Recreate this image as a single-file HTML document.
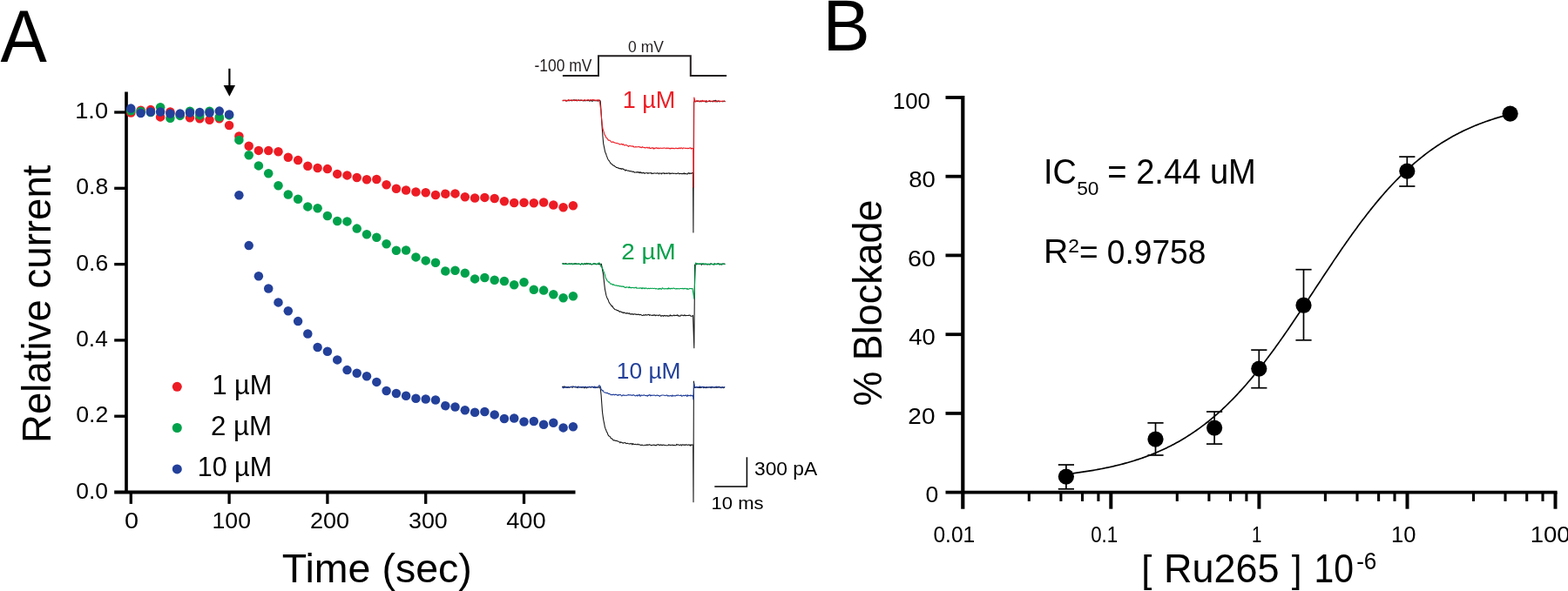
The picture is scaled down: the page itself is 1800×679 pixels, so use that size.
<!DOCTYPE html>
<html><head><meta charset="utf-8"><title>Ru265 figure</title>
<style>html,body{margin:0;padding:0;background:#fff;}body{width:1800px;height:679px;overflow:hidden;}svg{display:block;}</style>
</head><body>
<svg width="1800" height="679" viewBox="0 0 1800 679">
<rect width="1800" height="679" fill="#fff"/>
<g stroke="#000" fill="none">
<line x1="145" y1="105.6" x2="145" y2="565.5" stroke-width="3.7"/>
<line x1="131.2" y1="565.5" x2="660.5" y2="565.5" stroke-width="3.8"/>
<line x1="131.2" y1="478.2" x2="145" y2="478.2" stroke-width="3.3"/>
<line x1="131.2" y1="390.9" x2="145" y2="390.9" stroke-width="3.3"/>
<line x1="131.2" y1="303.6" x2="145" y2="303.6" stroke-width="3.3"/>
<line x1="131.2" y1="216.3" x2="145" y2="216.3" stroke-width="3.3"/>
<line x1="131.2" y1="129.0" x2="145" y2="129.0" stroke-width="3.3"/>
<line x1="150.3" y1="565.5" x2="150.3" y2="578.9" stroke-width="3.3"/>
<line x1="263.1" y1="565.5" x2="263.1" y2="578.9" stroke-width="3.3"/>
<line x1="375.9" y1="565.5" x2="375.9" y2="578.9" stroke-width="3.3"/>
<line x1="488.7" y1="565.5" x2="488.7" y2="578.9" stroke-width="3.3"/>
<line x1="601.5" y1="565.5" x2="601.5" y2="578.9" stroke-width="3.3"/>
</g>
<g fill="#ED1C24">
<circle cx="150.3" cy="129.5" r="5.25"/>
<circle cx="161.6" cy="126.8" r="5.25"/>
<circle cx="172.9" cy="126.1" r="5.25"/>
<circle cx="184.1" cy="134.4" r="5.25"/>
<circle cx="195.4" cy="128.5" r="5.25"/>
<circle cx="206.7" cy="131.5" r="5.25"/>
<circle cx="218.0" cy="135.3" r="5.25"/>
<circle cx="229.3" cy="136.3" r="5.25"/>
<circle cx="240.5" cy="137.8" r="5.25"/>
<circle cx="251.8" cy="136.3" r="5.25"/>
<circle cx="263.1" cy="144.0" r="5.25"/>
<circle cx="274.4" cy="156.5" r="5.25"/>
<circle cx="285.7" cy="167.8" r="5.25"/>
<circle cx="296.9" cy="172.9" r="5.25"/>
<circle cx="308.2" cy="173.1" r="5.25"/>
<circle cx="319.5" cy="174.2" r="5.25"/>
<circle cx="330.8" cy="180.7" r="5.25"/>
<circle cx="342.1" cy="184.1" r="5.25"/>
<circle cx="353.3" cy="190.7" r="5.25"/>
<circle cx="364.6" cy="193.0" r="5.25"/>
<circle cx="375.9" cy="194.1" r="5.25"/>
<circle cx="387.2" cy="199.9" r="5.25"/>
<circle cx="398.5" cy="201.4" r="5.25"/>
<circle cx="409.7" cy="204.0" r="5.25"/>
<circle cx="421.0" cy="206.2" r="5.25"/>
<circle cx="432.3" cy="206.0" r="5.25"/>
<circle cx="443.6" cy="212.2" r="5.25"/>
<circle cx="454.9" cy="216.7" r="5.25"/>
<circle cx="466.1" cy="218.5" r="5.25"/>
<circle cx="477.4" cy="220.5" r="5.25"/>
<circle cx="488.7" cy="221.2" r="5.25"/>
<circle cx="500.0" cy="224.0" r="5.25"/>
<circle cx="511.3" cy="222.7" r="5.25"/>
<circle cx="522.5" cy="222.4" r="5.25"/>
<circle cx="533.8" cy="226.2" r="5.25"/>
<circle cx="545.1" cy="227.5" r="5.25"/>
<circle cx="556.4" cy="226.9" r="5.25"/>
<circle cx="567.7" cy="228.0" r="5.25"/>
<circle cx="578.9" cy="231.3" r="5.25"/>
<circle cx="590.2" cy="233.0" r="5.25"/>
<circle cx="601.5" cy="232.8" r="5.25"/>
<circle cx="612.8" cy="233.3" r="5.25"/>
<circle cx="624.1" cy="232.5" r="5.25"/>
<circle cx="635.3" cy="235.5" r="5.25"/>
<circle cx="646.6" cy="238.2" r="5.25"/>
<circle cx="657.9" cy="236.3" r="5.25"/>
</g>
<g fill="#00A14B">
<circle cx="150.3" cy="127.3" r="5.25"/>
<circle cx="161.6" cy="128.0" r="5.25"/>
<circle cx="172.9" cy="129.0" r="5.25"/>
<circle cx="184.1" cy="123.2" r="5.25"/>
<circle cx="195.4" cy="135.8" r="5.25"/>
<circle cx="206.7" cy="132.9" r="5.25"/>
<circle cx="218.0" cy="127.8" r="5.25"/>
<circle cx="229.3" cy="132.4" r="5.25"/>
<circle cx="240.5" cy="127.8" r="5.25"/>
<circle cx="251.8" cy="134.4" r="5.25"/>
<circle cx="263.1" cy="132.4" r="5.25"/>
<circle cx="274.4" cy="160.9" r="5.25"/>
<circle cx="285.7" cy="178.2" r="5.25"/>
<circle cx="296.9" cy="190.4" r="5.25"/>
<circle cx="308.2" cy="199.2" r="5.25"/>
<circle cx="319.5" cy="213.3" r="5.25"/>
<circle cx="330.8" cy="223.5" r="5.25"/>
<circle cx="342.1" cy="228.8" r="5.25"/>
<circle cx="353.3" cy="237.4" r="5.25"/>
<circle cx="364.6" cy="239.2" r="5.25"/>
<circle cx="375.9" cy="248.0" r="5.25"/>
<circle cx="387.2" cy="254.0" r="5.25"/>
<circle cx="398.5" cy="254.4" r="5.25"/>
<circle cx="409.7" cy="262.6" r="5.25"/>
<circle cx="421.0" cy="269.3" r="5.25"/>
<circle cx="432.3" cy="272.7" r="5.25"/>
<circle cx="443.6" cy="280.3" r="5.25"/>
<circle cx="454.9" cy="287.8" r="5.25"/>
<circle cx="466.1" cy="287.5" r="5.25"/>
<circle cx="477.4" cy="295.4" r="5.25"/>
<circle cx="488.7" cy="299.4" r="5.25"/>
<circle cx="500.0" cy="301.8" r="5.25"/>
<circle cx="511.3" cy="311.5" r="5.25"/>
<circle cx="522.5" cy="310.8" r="5.25"/>
<circle cx="533.8" cy="313.7" r="5.25"/>
<circle cx="545.1" cy="320.4" r="5.25"/>
<circle cx="556.4" cy="319.0" r="5.25"/>
<circle cx="567.7" cy="321.7" r="5.25"/>
<circle cx="578.9" cy="323.0" r="5.25"/>
<circle cx="590.2" cy="327.3" r="5.25"/>
<circle cx="601.5" cy="324.3" r="5.25"/>
<circle cx="612.8" cy="332.7" r="5.25"/>
<circle cx="624.1" cy="333.6" r="5.25"/>
<circle cx="635.3" cy="338.3" r="5.25"/>
<circle cx="646.6" cy="342.2" r="5.25"/>
<circle cx="657.9" cy="340.2" r="5.25"/>
</g>
<g fill="#23409A">
<circle cx="150.3" cy="124.6" r="5.25"/>
<circle cx="161.6" cy="130.0" r="5.25"/>
<circle cx="172.9" cy="128.5" r="5.25"/>
<circle cx="184.1" cy="128.5" r="5.25"/>
<circle cx="195.4" cy="130.5" r="5.25"/>
<circle cx="206.7" cy="130.5" r="5.25"/>
<circle cx="218.0" cy="129.5" r="5.25"/>
<circle cx="229.3" cy="129.0" r="5.25"/>
<circle cx="240.5" cy="129.5" r="5.25"/>
<circle cx="251.8" cy="127.6" r="5.25"/>
<circle cx="263.1" cy="131.4" r="5.25"/>
<circle cx="274.4" cy="224.3" r="5.25"/>
<circle cx="285.7" cy="282.1" r="5.25"/>
<circle cx="296.9" cy="317.2" r="5.25"/>
<circle cx="308.2" cy="331.5" r="5.25"/>
<circle cx="319.5" cy="347.4" r="5.25"/>
<circle cx="330.8" cy="357.3" r="5.25"/>
<circle cx="342.1" cy="369.1" r="5.25"/>
<circle cx="353.3" cy="383.5" r="5.25"/>
<circle cx="364.6" cy="399.0" r="5.25"/>
<circle cx="375.9" cy="403.7" r="5.25"/>
<circle cx="387.2" cy="413.4" r="5.25"/>
<circle cx="398.5" cy="425.1" r="5.25"/>
<circle cx="409.7" cy="428.8" r="5.25"/>
<circle cx="421.0" cy="432.3" r="5.25"/>
<circle cx="432.3" cy="438.9" r="5.25"/>
<circle cx="443.6" cy="449.0" r="5.25"/>
<circle cx="454.9" cy="452.0" r="5.25"/>
<circle cx="466.1" cy="454.7" r="5.25"/>
<circle cx="477.4" cy="457.7" r="5.25"/>
<circle cx="488.7" cy="458.5" r="5.25"/>
<circle cx="500.0" cy="459.5" r="5.25"/>
<circle cx="511.3" cy="466.2" r="5.25"/>
<circle cx="522.5" cy="467.5" r="5.25"/>
<circle cx="533.8" cy="471.2" r="5.25"/>
<circle cx="545.1" cy="473.8" r="5.25"/>
<circle cx="556.4" cy="473.0" r="5.25"/>
<circle cx="567.7" cy="476.4" r="5.25"/>
<circle cx="578.9" cy="481.0" r="5.25"/>
<circle cx="590.2" cy="480.5" r="5.25"/>
<circle cx="601.5" cy="484.5" r="5.25"/>
<circle cx="612.8" cy="484.0" r="5.25"/>
<circle cx="624.1" cy="487.7" r="5.25"/>
<circle cx="635.3" cy="485.7" r="5.25"/>
<circle cx="646.6" cy="491.4" r="5.25"/>
<circle cx="657.9" cy="490.2" r="5.25"/>
</g>
<g font-family="'Liberation Sans', Arial, Helvetica, sans-serif">
<text x="87.27" y="572.50" font-size="25.92" textLength="36.77" lengthAdjust="spacingAndGlyphs" fill="#000">0.0</text>
<text x="87.26" y="485.20" font-size="25.92" textLength="37.08" lengthAdjust="spacingAndGlyphs" fill="#000">0.2</text>
<text x="87.27" y="397.90" font-size="25.92" textLength="36.49" lengthAdjust="spacingAndGlyphs" fill="#000">0.4</text>
<text x="87.26" y="310.60" font-size="25.92" textLength="36.90" lengthAdjust="spacingAndGlyphs" fill="#000">0.6</text>
<text x="87.26" y="223.30" font-size="25.92" textLength="36.89" lengthAdjust="spacingAndGlyphs" fill="#000">0.8</text>
<text x="86.23" y="136.00" font-size="25.92" textLength="37.84" lengthAdjust="spacingAndGlyphs" fill="#000">1.0</text>
<text x="143.07" y="607.00" font-size="25.92" textLength="16.06" lengthAdjust="spacingAndGlyphs" fill="#000">0</text>
<text x="243.57" y="607.00" font-size="25.92" textLength="44.36" lengthAdjust="spacingAndGlyphs" fill="#000">100</text>
<text x="355.94" y="607.00" font-size="25.92" textLength="45.12" lengthAdjust="spacingAndGlyphs" fill="#000">200</text>
<text x="468.98" y="607.00" font-size="25.92" textLength="44.77" lengthAdjust="spacingAndGlyphs" fill="#000">300</text>
<text x="581.17" y="607.00" font-size="25.92" textLength="45.49" lengthAdjust="spacingAndGlyphs" fill="#000">400</text>
<text x="323.86" y="669.30" font-size="47.09" textLength="217.90" lengthAdjust="spacingAndGlyphs" fill="#000">Time (sec)</text>
<text transform="rotate(-90)" x="-508.94" y="57.90" font-size="47.09" textLength="319.38" lengthAdjust="spacingAndGlyphs" fill="#000">Relative current</text>
<text x="0.44" y="70.70" font-size="84.74" textLength="53.31" lengthAdjust="spacingAndGlyphs" fill="#000">A</text>
<text x="243.47" y="453.00" font-size="32.27" textLength="68.75" lengthAdjust="spacingAndGlyphs" fill="#000">1 µM</text>
<text x="242.03" y="499.80" font-size="31.11" textLength="70.14" lengthAdjust="spacingAndGlyphs" fill="#000">2 µM</text>
<text x="226.68" y="547.10" font-size="31.69" textLength="85.43" lengthAdjust="spacingAndGlyphs" fill="#000">10 µM</text>
</g>
<circle cx="203.3" cy="444.3" r="5.5" fill="#ED1C24"/>
<circle cx="203.3" cy="491.5" r="5.5" fill="#00A14B"/>
<circle cx="203.3" cy="538.9" r="5.5" fill="#23409A"/>
<line x1="263.4" y1="78.8" x2="263.4" y2="100" stroke="#000" stroke-width="2.2"/>
<path d="M256.6 98 L270 98 L263.4 110.8 Z" fill="#000"/>
<polyline points="645.80,115.60 646.50,115.71 647.20,115.50 647.90,115.26 648.60,115.43 649.30,115.22 650.00,115.62 650.70,116.11 651.40,115.41 652.10,115.36 652.80,115.79 653.50,115.74 654.20,115.64 654.90,115.25 655.60,115.59 656.30,115.86 657.00,115.09 657.70,115.43 658.40,114.88 659.10,115.11 659.80,114.90 660.50,115.51 661.20,115.12 661.90,115.70 662.60,115.66 663.30,115.53 664.00,114.64 664.70,115.40 665.40,115.58 666.10,115.64 666.80,115.02 667.50,115.42 668.20,115.23 668.90,115.29 669.60,116.00 670.30,115.29 671.00,115.59 671.70,115.94 672.40,115.38 673.10,115.56 673.80,115.64 674.50,115.62 675.20,115.13 675.90,115.63 676.60,116.12 677.30,115.01 678.00,115.93 678.70,115.65 679.40,115.36 680.10,116.36 680.80,115.89 681.50,115.14 682.20,115.63 682.90,115.82 683.60,115.53 684.30,115.86 685.00,115.57 685.70,115.85 686.40,116.15 687.10,115.34 687.80,115.68 688.50,115.42 689.20,116.02 689.90,125.62 690.60,137.69 691.30,148.05 692.00,157.31 692.70,165.04 693.40,168.47 694.10,171.90 694.80,175.08 695.50,176.23 696.20,178.64 696.90,180.42 697.60,182.43 698.30,183.57 699.00,184.41 699.70,185.47 700.40,186.47 701.10,187.98 701.80,187.97 702.50,188.69 703.20,189.55 703.90,189.92 704.60,190.38 705.30,190.46 706.00,191.27 706.70,191.46 707.40,192.41 708.10,192.52 708.80,192.56 709.50,193.10 710.20,192.97 710.90,193.75 711.60,193.58 712.30,194.03 713.00,193.54 713.70,194.37 714.40,193.80 715.10,193.86 715.80,194.71 716.50,194.66 717.20,195.23 717.90,196.19 718.60,195.18 719.30,195.42 720.00,195.90 720.70,196.16 721.40,196.07 722.10,196.21 722.80,196.72 723.50,196.83 724.20,196.41 724.90,196.95 725.60,197.16 726.30,196.92 727.00,197.58 727.70,197.30 728.40,198.14 729.10,197.97 729.80,198.04 730.50,197.88 731.20,198.13 731.90,197.47 732.60,197.85 733.30,198.47 734.00,197.57 734.70,198.74 735.40,197.80 736.10,198.80 736.80,198.24 737.50,198.89 738.20,198.69 738.90,198.10 739.60,199.19 740.30,199.30 741.00,198.77 741.70,198.72 742.40,198.80 743.10,198.53 743.80,199.35 744.50,198.75 745.20,198.97 745.90,198.71 746.60,198.80 747.30,198.58 748.00,199.57 748.70,199.06 749.40,199.50 750.10,199.16 750.80,198.91 751.50,199.07 752.20,199.00 752.90,199.23 753.60,199.10 754.30,199.14 755.00,198.74 755.70,198.97 756.40,199.91 757.10,199.03 757.80,198.89 758.50,199.42 759.20,199.83 759.90,198.75 760.60,199.22 761.30,199.06 762.00,198.63 762.70,199.58 763.40,199.29 764.10,199.33 764.80,199.01 765.50,199.47 766.20,199.10 766.90,199.25 767.60,198.88 768.30,198.84 769.00,199.81 769.70,199.11 770.40,199.41 771.10,199.29 771.80,199.13 772.50,199.11 773.20,199.54 773.90,199.19 774.60,199.24 775.30,199.31 776.00,199.75 776.70,199.56 777.40,199.45 778.10,199.09 778.80,198.77 779.50,199.66 780.20,199.67 780.90,199.25 781.60,199.51 782.30,199.60 783.00,199.62 783.70,199.65 784.40,199.13 785.10,199.88 785.80,198.83 786.50,199.63 787.20,199.49 787.90,199.63 788.60,200.01 789.30,199.86 790.00,198.86 790.70,198.66 791.40,199.61 792.10,198.91 792.80,199.30 793.50,199.62 794.20,198.68 794.90,198.50 795.50,199.40 795.90,267.00 796.50,117.00 797.20,116.62 797.90,116.50 798.60,116.60 799.30,116.26 800.00,116.00 800.70,116.51 801.40,116.20 802.10,115.94 802.80,116.75 803.50,116.53 804.20,116.70 804.90,116.16 805.60,116.28 806.30,116.15 807.00,116.19 807.70,116.60 808.40,116.22 809.10,116.65 809.80,116.64 810.50,117.28 811.20,115.98 811.90,116.84 812.60,116.47 813.30,116.50 814.00,115.95 814.70,116.33 815.40,116.78 816.10,116.47 816.80,116.53 817.50,116.39 818.20,116.94 818.90,116.49 819.60,115.66 820.30,116.24 821.00,115.75 821.70,115.26 822.40,116.30 823.10,117.01 823.80,116.52 824.50,116.05 825.20,116.14 825.90,116.93 826.60,116.56 827.30,116.52 828.00,116.48 828.70,116.51 829.40,116.81 830.10,116.71 830.80,116.58 831.50,116.10 832.20,116.69 832.30,116.24" fill="none" stroke="#1a1a1a" stroke-width="1.1" stroke-linejoin="round"/>
<polyline points="645.80,116.02 646.50,115.09 647.20,115.49 647.90,115.51 648.60,114.98 649.30,116.12 650.00,115.99 650.70,115.24 651.40,115.68 652.10,115.51 652.80,114.35 653.50,115.42 654.20,115.28 654.90,115.32 655.60,114.86 656.30,115.15 657.00,115.17 657.70,115.67 658.40,115.33 659.10,115.19 659.80,115.76 660.50,114.95 661.20,115.01 661.90,114.45 662.60,115.73 663.30,115.49 664.00,115.46 664.70,115.35 665.40,115.13 666.10,115.17 666.80,114.98 667.50,114.99 668.20,115.08 668.90,115.63 669.60,115.26 670.30,115.02 671.00,114.82 671.70,114.79 672.40,115.64 673.10,115.22 673.80,115.05 674.50,114.89 675.20,114.60 675.90,114.99 676.60,115.34 677.30,114.86 678.00,114.92 678.70,114.92 679.40,115.05 680.10,114.40 680.80,114.91 681.50,114.68 682.20,115.34 682.90,114.71 683.60,115.22 684.30,115.58 685.00,114.88 685.70,114.77 686.40,115.07 687.10,115.00 687.80,114.62 688.50,117.27 689.20,122.37 689.90,127.93 690.60,136.03 691.30,142.98 692.00,147.98 692.70,150.16 693.40,152.35 694.10,154.98 694.80,155.51 695.50,157.36 696.20,158.50 696.90,158.92 697.60,159.85 698.30,161.11 699.00,160.93 699.70,161.34 700.40,161.51 701.10,162.42 701.80,163.27 702.50,163.35 703.20,162.87 703.90,163.12 704.60,163.45 705.30,163.93 706.00,163.91 706.70,164.24 707.40,164.44 708.10,164.38 708.80,164.66 709.50,164.94 710.20,165.01 710.90,165.42 711.60,166.11 712.30,165.81 713.00,165.78 713.70,165.29 714.40,166.25 715.10,165.53 715.80,165.90 716.50,166.91 717.20,167.01 717.90,166.84 718.60,166.39 719.30,167.03 720.00,167.05 720.70,167.68 721.40,168.41 722.10,167.75 722.80,167.48 723.50,167.43 724.20,167.96 724.90,168.02 725.60,167.75 726.30,168.32 727.00,167.93 727.70,168.88 728.40,168.95 729.10,169.04 729.80,168.52 730.50,168.97 731.20,168.79 731.90,168.76 732.60,168.84 733.30,168.53 734.00,168.53 734.70,169.43 735.40,169.11 736.10,169.32 736.80,169.67 737.50,168.68 738.20,169.10 738.90,169.51 739.60,169.64 740.30,169.40 741.00,169.98 741.70,169.72 742.40,169.23 743.10,169.38 743.80,170.09 744.50,170.00 745.20,169.14 745.90,170.42 746.60,170.18 747.30,170.50 748.00,169.88 748.70,169.95 749.40,169.67 750.10,171.09 750.80,170.09 751.50,170.79 752.20,169.97 752.90,170.31 753.60,169.64 754.30,170.15 755.00,170.69 755.70,169.86 756.40,170.76 757.10,170.49 757.80,169.98 758.50,170.20 759.20,170.22 759.90,170.38 760.60,170.20 761.30,170.09 762.00,170.30 762.70,170.02 763.40,169.93 764.10,170.40 764.80,170.76 765.50,169.85 766.20,170.43 766.90,170.19 767.60,170.07 768.30,170.77 769.00,170.25 769.70,171.02 770.40,170.15 771.10,170.60 771.80,170.37 772.50,170.17 773.20,170.68 773.90,170.40 774.60,170.69 775.30,170.45 776.00,170.06 776.70,170.43 777.40,170.49 778.10,170.84 778.80,170.13 779.50,170.46 780.20,169.83 780.90,170.73 781.60,170.07 782.30,169.80 783.00,170.46 783.70,170.91 784.40,169.91 785.10,170.08 785.80,170.21 786.50,170.06 787.20,170.64 787.90,170.19 788.60,170.22 789.30,170.72 790.00,170.21 790.70,170.66 791.40,170.13 792.10,170.04 792.80,169.80 793.50,171.21 794.20,170.38 794.90,170.59 795.60,170.49 795.80,170.56 796.30,215.20 796.80,112.00 798.00,116.32 798.70,117.03 799.40,115.91 800.10,115.71 800.80,115.92 801.50,115.79 802.20,116.58 802.90,116.61 803.60,115.93 804.30,115.77 805.00,116.17 805.70,116.83 806.40,115.23 807.10,116.50 807.80,115.89 808.50,116.70 809.20,115.89 809.90,116.19 810.60,115.73 811.30,115.93 812.00,116.83 812.70,116.61 813.40,116.15 814.10,115.97 814.80,115.58 815.50,116.15 816.20,116.29 816.90,116.27 817.60,116.26 818.30,115.87 819.00,116.27 819.70,116.29 820.40,116.79 821.10,117.01 821.80,116.25 822.50,116.01 823.20,116.28 823.90,116.07 824.60,116.02 825.30,116.28 826.00,115.90 826.70,116.53 827.40,116.26 828.10,116.40 828.80,116.23 829.50,116.02 830.20,115.94 830.90,116.21 831.60,116.09 832.30,116.39" fill="none" stroke="#ED1C24" stroke-width="1.1" stroke-linejoin="round"/>
<polyline points="645.50,303.30 646.20,302.78 646.90,303.33 647.60,302.79 648.30,303.07 649.00,303.19 649.70,302.51 650.40,303.33 651.10,303.36 651.80,303.24 652.50,303.14 653.20,303.16 653.90,302.93 654.60,303.20 655.30,303.09 656.00,303.33 656.70,302.84 657.40,303.39 658.10,303.35 658.80,303.25 659.50,303.13 660.20,303.51 660.90,302.67 661.60,303.47 662.30,303.39 663.00,303.41 663.70,303.45 664.40,303.05 665.10,303.20 665.80,303.54 666.50,303.46 667.20,303.38 667.90,302.72 668.60,303.50 669.30,303.74 670.00,303.68 670.70,303.39 671.40,302.71 672.10,303.66 672.80,303.24 673.50,302.34 674.20,303.44 674.90,302.73 675.60,302.81 676.30,303.06 677.00,303.78 677.70,303.16 678.40,303.40 679.10,303.96 679.80,303.91 680.50,303.26 681.20,303.21 681.90,302.82 682.60,303.04 683.30,303.46 684.00,303.45 684.70,303.34 685.40,303.68 686.10,303.01 686.80,303.28 687.50,303.58 688.20,303.52 688.90,303.71 689.60,303.45 690.30,303.18 691.00,306.51 691.70,310.81 692.40,314.65 693.10,320.31 693.80,326.93 694.50,332.56 695.20,335.96 695.90,339.40 696.60,341.44 697.30,343.12 698.00,344.12 698.70,346.18 699.40,347.85 700.10,348.79 700.80,349.49 701.50,350.71 702.20,351.91 702.90,351.39 703.60,353.11 704.30,353.97 705.00,354.56 705.70,355.45 706.40,355.69 707.10,355.80 707.80,356.18 708.50,356.71 709.20,356.53 709.90,357.01 710.60,357.65 711.30,358.33 712.00,357.79 712.70,358.09 713.40,358.43 714.10,359.11 714.80,358.81 715.50,359.60 716.20,358.88 716.90,359.37 717.60,359.54 718.30,360.07 719.00,360.31 719.70,359.47 720.40,359.81 721.10,360.38 721.80,360.09 722.50,359.85 723.20,360.91 723.90,360.79 724.60,360.87 725.30,360.58 726.00,361.22 726.70,360.81 727.40,361.39 728.10,360.69 728.80,360.78 729.50,361.24 730.20,360.96 730.90,361.54 731.60,361.43 732.30,361.03 733.00,361.46 733.70,361.35 734.40,361.88 735.10,361.33 735.80,361.45 736.50,362.12 737.20,362.54 737.90,362.49 738.60,361.79 739.30,361.88 740.00,362.41 740.70,361.81 741.40,361.52 742.10,361.96 742.80,362.11 743.50,361.65 744.20,361.37 744.90,361.48 745.60,362.30 746.30,361.79 747.00,362.05 747.70,362.21 748.40,362.39 749.10,362.05 749.80,362.39 750.50,361.89 751.20,362.11 751.90,361.88 752.60,362.72 753.30,362.30 754.00,362.05 754.70,362.22 755.40,362.29 756.10,362.66 756.80,361.81 757.50,362.04 758.20,362.30 758.90,363.43 759.60,362.84 760.30,362.45 761.00,362.78 761.70,363.30 762.40,362.44 763.10,362.41 763.80,363.02 764.50,362.75 765.20,362.83 765.90,362.39 766.60,363.32 767.30,363.24 768.00,362.81 768.70,362.86 769.40,361.83 770.10,362.84 770.80,362.53 771.50,362.76 772.20,362.86 772.90,362.47 773.60,361.96 774.30,362.74 775.00,362.32 775.70,362.47 776.40,362.37 777.10,362.47 777.80,361.72 778.50,363.06 779.20,362.70 779.90,363.02 780.60,363.35 781.30,362.61 782.00,361.92 782.70,362.26 783.40,362.14 784.10,362.41 784.80,362.63 785.50,361.84 786.20,362.73 786.90,362.03 787.60,362.71 788.30,362.56 789.00,362.48 789.70,362.57 790.40,362.39 791.10,362.37 791.80,361.96 792.50,362.59 793.20,363.30 793.90,363.35 794.60,363.10 795.30,362.87 795.50,362.34 796.80,399.70 797.60,304.00 799.00,304.05 799.70,303.48 800.40,303.47 801.10,303.39 801.80,303.53 802.50,303.33 803.20,303.47 803.90,303.09 804.60,303.36 805.30,304.37 806.00,303.47 806.70,303.41 807.40,303.70 808.10,303.77 808.80,303.08 809.50,303.42 810.20,303.85 810.90,303.60 811.60,303.55 812.30,304.09 813.00,303.24 813.70,303.53 814.40,303.30 815.10,304.07 815.80,302.76 816.50,303.25 817.20,303.30 817.90,303.75 818.60,303.73 819.30,304.03 820.00,302.90 820.70,303.79 821.40,303.39 822.10,303.25 822.80,303.71 823.50,303.15 824.20,302.71 824.90,303.36 825.60,302.93 826.30,303.25 827.00,303.64 827.70,303.62 828.40,304.10 829.10,303.42 829.80,302.92 830.50,303.21 831.20,303.15 831.90,303.04 832.30,303.67" fill="none" stroke="#1a1a1a" stroke-width="1.1" stroke-linejoin="round"/>
<polyline points="645.50,303.05 646.20,302.55 646.90,303.56 647.60,303.26 648.30,303.44 649.00,303.34 649.70,303.54 650.40,303.31 651.10,303.77 651.80,303.46 652.50,303.45 653.20,303.46 653.90,302.75 654.60,303.24 655.30,303.20 656.00,303.38 656.70,302.78 657.40,303.92 658.10,303.34 658.80,302.84 659.50,302.65 660.20,303.19 660.90,303.27 661.60,303.03 662.30,303.34 663.00,303.06 663.70,303.51 664.40,303.02 665.10,303.29 665.80,303.67 666.50,304.28 667.20,302.92 667.90,303.12 668.60,302.98 669.30,303.60 670.00,302.86 670.70,303.12 671.40,303.29 672.10,302.93 672.80,302.94 673.50,303.12 674.20,302.50 674.90,302.75 675.60,303.14 676.30,303.36 677.00,303.23 677.70,302.63 678.40,303.12 679.10,303.60 679.80,303.51 680.50,303.27 681.20,302.96 681.90,303.54 682.60,303.08 683.30,302.86 684.00,303.00 684.70,303.85 685.40,303.38 686.10,303.72 686.80,302.29 687.50,302.16 688.20,302.08 688.90,303.44 689.60,305.77 690.30,306.31 691.00,307.08 691.70,308.61 692.40,310.28 693.10,312.33 693.80,314.07 694.50,316.29 695.20,318.98 695.90,320.40 696.60,321.52 697.30,322.89 698.00,323.27 698.70,324.09 699.40,323.94 700.10,325.21 700.80,326.16 701.50,326.10 702.20,326.29 702.90,326.59 703.60,327.50 704.30,326.71 705.00,327.24 705.70,327.67 706.40,327.97 707.10,327.70 707.80,328.16 708.50,328.10 709.20,328.40 709.90,328.45 710.60,328.20 711.30,328.75 712.00,329.20 712.70,328.61 713.40,328.99 714.10,329.43 714.80,328.86 715.50,329.42 716.20,329.03 716.90,329.94 717.60,330.47 718.30,330.43 719.00,329.66 719.70,330.10 720.40,329.94 721.10,330.00 721.80,330.62 722.50,329.61 723.20,330.58 723.90,330.22 724.60,330.84 725.30,330.44 726.00,330.18 726.70,330.60 727.40,330.83 728.10,330.62 728.80,330.85 729.50,330.52 730.20,329.96 730.90,331.16 731.60,331.13 732.30,330.96 733.00,330.98 733.70,331.39 734.40,330.86 735.10,330.80 735.80,331.03 736.50,331.59 737.20,330.64 737.90,331.64 738.60,330.97 739.30,330.82 740.00,331.74 740.70,331.24 741.40,330.80 742.10,331.17 742.80,331.67 743.50,331.79 744.20,331.18 744.90,331.51 745.60,331.64 746.30,331.14 747.00,331.53 747.70,331.39 748.40,331.21 749.10,331.24 749.80,331.46 750.50,331.46 751.20,331.24 751.90,331.31 752.60,331.90 753.30,331.57 754.00,331.83 754.70,331.96 755.40,331.73 756.10,332.38 756.80,331.21 757.50,331.84 758.20,331.42 758.90,332.25 759.60,332.20 760.30,330.82 761.00,331.20 761.70,331.82 762.40,331.87 763.10,331.86 763.80,331.56 764.50,331.76 765.20,331.84 765.90,331.56 766.60,331.99 767.30,330.74 768.00,331.84 768.70,331.21 769.40,331.96 770.10,331.51 770.80,331.26 771.50,331.74 772.20,331.25 772.90,331.25 773.60,331.00 774.30,331.59 775.00,331.79 775.70,331.99 776.40,331.55 777.10,332.00 777.80,331.61 778.50,331.56 779.20,331.82 779.90,332.00 780.60,331.47 781.30,331.51 782.00,331.54 782.70,331.63 783.40,331.26 784.10,331.99 784.80,331.45 785.50,331.78 786.20,331.29 786.90,331.74 787.60,331.75 788.30,331.44 789.00,332.37 789.70,331.74 790.40,332.28 791.10,331.96 791.80,331.35 792.50,331.45 793.20,331.77 793.90,331.62 794.60,331.62 795.00,331.49 796.80,343.10 798.60,302.00 799.50,302.71 800.20,303.31 800.90,302.56 801.60,303.54 802.30,303.12 803.00,303.13 803.70,303.32 804.40,303.50 805.10,302.86 805.80,302.74 806.50,302.99 807.20,302.62 807.90,303.03 808.60,304.00 809.30,303.00 810.00,303.65 810.70,302.88 811.40,303.51 812.10,303.28 812.80,303.38 813.50,303.62 814.20,304.07 814.90,303.47 815.60,303.45 816.30,303.03 817.00,303.62 817.70,303.31 818.40,303.72 819.10,303.38 819.80,304.06 820.50,302.65 821.20,303.29 821.90,303.73 822.60,303.27 823.30,303.10 824.00,303.30 824.70,302.88 825.40,303.45 826.10,304.33 826.80,303.84 827.50,302.98 828.20,303.07 828.90,303.25 829.60,303.78 830.30,303.09 831.00,303.14 831.70,303.74 832.30,303.73" fill="none" stroke="#00A14B" stroke-width="1.1" stroke-linejoin="round"/>
<polyline points="645.30,444.66 646.00,444.38 646.70,444.21 647.40,444.53 648.10,443.95 648.80,445.09 649.50,444.56 650.20,444.98 650.90,445.51 651.60,445.25 652.30,444.36 653.00,445.13 653.70,445.24 654.40,444.52 655.10,444.44 655.80,444.76 656.50,444.20 657.20,445.36 657.90,443.89 658.60,444.39 659.30,444.71 660.00,444.72 660.70,444.87 661.40,444.91 662.10,444.73 662.80,445.25 663.50,444.00 664.20,444.82 664.90,444.55 665.60,444.87 666.30,444.91 667.00,444.48 667.70,444.59 668.40,445.13 669.10,444.97 669.80,444.58 670.50,445.62 671.20,445.72 671.90,444.29 672.60,444.97 673.30,445.81 674.00,445.16 674.70,444.95 675.40,444.79 676.10,444.67 676.80,444.80 677.50,444.67 678.20,445.17 678.90,444.74 679.60,444.73 680.30,444.45 681.00,444.89 681.70,444.58 682.40,444.86 683.10,445.33 683.80,445.08 684.50,445.14 685.20,445.09 685.90,444.98 686.60,444.92 687.30,444.86 688.00,445.28 688.70,444.59 689.40,447.64 690.10,453.81 690.80,463.83 691.50,473.32 692.20,478.63 692.90,483.09 693.60,486.32 694.30,490.31 695.00,492.41 695.70,494.00 696.40,496.13 697.10,497.01 697.80,498.96 698.50,500.43 699.20,501.19 699.90,501.23 700.60,502.13 701.30,503.70 702.00,503.70 702.70,504.09 703.40,504.96 704.10,505.92 704.80,505.87 705.50,505.78 706.20,506.18 706.90,506.56 707.60,506.35 708.30,506.43 709.00,507.08 709.70,506.93 710.40,507.49 711.10,507.76 711.80,508.81 712.50,507.78 713.20,508.24 713.90,508.40 714.60,508.79 715.30,509.17 716.00,508.73 716.70,508.74 717.40,508.55 718.10,508.93 718.80,509.59 719.50,509.50 720.20,509.19 720.90,509.52 721.60,509.77 722.30,510.03 723.00,509.70 723.70,509.92 724.40,509.41 725.10,509.74 725.80,510.87 726.50,509.51 727.20,510.28 727.90,510.57 728.60,510.42 729.30,510.32 730.00,510.67 730.70,510.76 731.40,510.79 732.10,510.17 732.80,510.88 733.50,510.66 734.20,510.83 734.90,511.17 735.60,511.36 736.30,511.50 737.00,511.00 737.70,511.57 738.40,511.69 739.10,511.70 739.80,511.81 740.50,511.24 741.20,511.23 741.90,511.61 742.60,510.78 743.30,511.38 744.00,511.10 744.70,511.16 745.40,510.64 746.10,510.96 746.80,511.29 747.50,511.64 748.20,511.68 748.90,511.27 749.60,511.23 750.30,510.98 751.00,511.45 751.70,511.21 752.40,511.53 753.10,511.97 753.80,511.29 754.50,510.73 755.20,510.97 755.90,510.75 756.60,510.85 757.30,511.80 758.00,511.39 758.70,510.72 759.40,511.55 760.10,511.78 760.80,511.16 761.50,511.04 762.20,511.17 762.90,511.41 763.60,511.54 764.30,511.75 765.00,511.76 765.70,511.75 766.40,511.82 767.10,511.55 767.80,510.72 768.50,511.25 769.20,511.42 769.90,511.15 770.60,511.65 771.30,511.16 772.00,510.95 772.70,511.84 773.40,511.55 774.10,511.37 774.80,511.64 775.50,511.68 776.20,511.40 776.90,510.34 777.60,511.01 778.30,511.08 779.00,510.88 779.70,511.32 780.40,511.69 781.10,511.04 781.80,510.79 782.50,511.98 783.20,511.03 783.90,510.72 784.60,511.27 785.30,511.33 786.00,510.89 786.70,511.45 787.40,510.95 788.10,510.78 788.80,511.18 789.50,511.40 790.20,510.85 790.90,511.21 791.60,511.03 792.30,512.13 793.00,510.78 793.70,511.56 794.40,511.00 795.10,510.96 795.60,511.27 796.00,576.80 796.40,438.00 797.20,445.34 797.90,445.48 798.60,445.12 799.30,444.77 800.00,444.80 800.70,445.19 801.40,445.22 802.10,445.53 802.80,445.16 803.50,445.40 804.20,445.58 804.90,445.06 805.60,444.44 806.30,444.55 807.00,444.45 807.70,445.60 808.40,444.68 809.10,445.47 809.80,445.22 810.50,445.65 811.20,445.38 811.90,444.96 812.60,444.92 813.30,445.03 814.00,445.07 814.70,444.80 815.40,444.99 816.10,445.61 816.80,444.35 817.50,445.10 818.20,444.66 818.90,445.07 819.60,445.32 820.30,444.98 821.00,445.29 821.70,444.40 822.40,445.42 823.10,444.77 823.80,445.24 824.50,445.07 825.20,444.02 825.90,444.71 826.60,445.08 827.30,445.59 828.00,445.11 828.70,445.10 829.40,444.46 830.10,445.54 830.80,445.69 831.50,445.01 832.10,444.92" fill="none" stroke="#1a1a1a" stroke-width="1.1" stroke-linejoin="round"/>
<polyline points="645.30,444.18 646.00,445.14 646.70,445.83 647.40,445.07 648.10,445.28 648.80,445.01 649.50,444.43 650.20,445.31 650.90,444.33 651.60,444.72 652.30,444.91 653.00,445.14 653.70,444.96 654.40,444.95 655.10,444.51 655.80,444.31 656.50,444.82 657.20,444.53 657.90,444.30 658.60,444.32 659.30,444.61 660.00,444.10 660.70,444.29 661.40,444.18 662.10,444.87 662.80,444.96 663.50,445.56 664.20,444.23 664.90,444.54 665.60,445.15 666.30,444.72 667.00,444.68 667.70,445.45 668.40,444.67 669.10,444.36 669.80,444.30 670.50,444.93 671.20,444.92 671.90,444.28 672.60,444.43 673.30,445.00 674.00,445.02 674.70,444.56 675.40,445.04 676.10,445.02 676.80,444.12 677.50,444.68 678.20,444.96 678.90,444.58 679.60,443.99 680.30,444.69 681.00,445.09 681.70,445.40 682.40,443.97 683.10,445.79 683.80,444.37 684.50,445.16 685.20,445.27 685.90,445.17 686.60,444.83 687.30,443.15 688.00,442.84 688.70,443.20 689.40,444.27 690.10,447.72 690.80,447.84 691.50,449.04 692.20,448.62 692.90,450.09 693.60,450.67 694.30,451.17 695.00,451.05 695.70,451.02 696.40,451.78 697.10,451.32 697.80,451.74 698.50,452.57 699.20,452.29 699.90,452.72 700.60,452.86 701.30,453.74 702.00,453.60 702.70,453.19 703.40,453.76 704.10,453.09 704.80,453.33 705.50,453.88 706.20,453.13 706.90,453.56 707.60,453.22 708.30,453.82 709.00,454.44 709.70,453.58 710.40,453.99 711.10,453.59 711.80,453.52 712.50,453.51 713.20,454.55 713.90,454.91 714.60,454.21 715.30,453.77 716.00,454.32 716.70,453.94 717.40,454.38 718.10,454.20 718.80,454.21 719.50,454.34 720.20,453.90 720.90,453.98 721.60,453.49 722.30,453.98 723.00,453.62 723.70,454.12 724.40,453.81 725.10,454.23 725.80,454.37 726.50,453.66 727.20,453.90 727.90,453.86 728.60,454.51 729.30,454.88 730.00,454.56 730.70,454.11 731.40,454.80 732.10,453.68 732.80,454.83 733.50,454.01 734.20,453.21 734.90,455.28 735.60,454.87 736.30,453.88 737.00,454.34 737.70,454.20 738.40,454.33 739.10,453.73 739.80,454.03 740.50,454.47 741.20,454.38 741.90,454.76 742.60,454.33 743.30,455.20 744.00,454.04 744.70,454.41 745.40,453.58 746.10,453.84 746.80,454.82 747.50,453.96 748.20,454.52 748.90,454.30 749.60,453.93 750.30,454.20 751.00,454.13 751.70,454.15 752.40,454.62 753.10,454.58 753.80,454.12 754.50,453.99 755.20,454.45 755.90,454.31 756.60,454.74 757.30,455.36 758.00,454.67 758.70,454.34 759.40,454.29 760.10,454.03 760.80,454.01 761.50,453.98 762.20,454.21 762.90,454.20 763.60,454.65 764.30,454.21 765.00,454.29 765.70,453.90 766.40,454.99 767.10,454.56 767.80,455.05 768.50,454.68 769.20,454.94 769.90,454.28 770.60,454.65 771.30,455.41 772.00,453.91 772.70,454.83 773.40,455.03 774.10,454.54 774.80,454.67 775.50,454.87 776.20,454.13 776.90,454.55 777.60,454.05 778.30,454.13 779.00,454.15 779.70,454.33 780.40,454.45 781.10,454.57 781.80,453.84 782.50,455.16 783.20,454.84 783.90,454.68 784.60,454.26 785.30,454.36 786.00,454.61 786.70,454.56 787.40,453.74 788.10,454.69 788.80,455.53 789.50,453.68 790.20,454.79 790.90,454.54 791.60,454.36 792.30,454.93 793.00,453.94 793.70,454.46 794.40,454.97 795.10,454.32 795.50,454.24 796.00,459.00 796.60,440.00 797.50,444.84 798.20,444.63 798.90,445.40 799.60,444.45 800.30,445.14 801.00,444.31 801.70,445.06 802.40,444.76 803.10,443.79 803.80,444.80 804.50,444.38 805.20,444.63 805.90,445.40 806.60,444.36 807.30,444.39 808.00,445.36 808.70,444.85 809.40,445.40 810.10,444.93 810.80,444.46 811.50,444.77 812.20,445.28 812.90,445.17 813.60,444.80 814.30,444.82 815.00,444.76 815.70,444.57 816.40,445.55 817.10,444.80 817.80,444.36 818.50,444.61 819.20,445.08 819.90,445.05 820.60,444.75 821.30,444.54 822.00,444.81 822.70,444.15 823.40,444.29 824.10,445.11 824.80,444.61 825.50,444.95 826.20,445.28 826.90,445.05 827.60,444.81 828.30,445.63 829.00,445.06 829.70,444.66 830.40,445.09 831.10,444.96 831.80,444.47 832.10,444.83" fill="none" stroke="#23409A" stroke-width="1.1" stroke-linejoin="round"/>
<polyline points="645.9,87 687,87 687,64.3 792.8,64.3 792.8,87 834.1,87" fill="none" stroke="#231F20" stroke-width="2"/>
<g font-family="'Liberation Sans', Arial, Helvetica, sans-serif">
<text x="613.52" y="82.20" font-size="19.33" textLength="65.95" lengthAdjust="spacingAndGlyphs" fill="#231F20">-100 mV</text>
<text x="721.12" y="59.50" font-size="19.05" textLength="40.66" lengthAdjust="spacingAndGlyphs" fill="#231F20">0 mV</text>
<text x="714.64" y="124.00" font-size="27.76" textLength="60.57" lengthAdjust="spacingAndGlyphs" fill="#ED1C24">1 µM</text>
<text x="713.30" y="298.30" font-size="26.60" textLength="62.27" lengthAdjust="spacingAndGlyphs" fill="#00A14B">2 µM</text>
<text x="707.79" y="434.80" font-size="26.16" textLength="73.77" lengthAdjust="spacingAndGlyphs" fill="#23409A">10 µM</text>
<text x="866.03" y="546.40" font-size="21.91" textLength="72.21" lengthAdjust="spacingAndGlyphs" fill="#000">300 pA</text>
<text x="816.63" y="584.70" font-size="20.93" textLength="59.87" lengthAdjust="spacingAndGlyphs" fill="#000">10 ms</text>
</g>
<polyline points="820.3,559.1 857.4,559.1 857.4,525.2" fill="none" stroke="#000" stroke-width="1.5"/>
<g stroke="#000" fill="none">
<line x1="1105.3" y1="110.0" x2="1105.3" y2="584.7" stroke-width="4.2"/>
<line x1="1085.5" y1="565.6" x2="1787.6" y2="565.6" stroke-width="3.8"/>
<line x1="1085.5" y1="474.9" x2="1105.3" y2="474.9" stroke-width="3.8"/>
<line x1="1085.5" y1="384.2" x2="1105.3" y2="384.2" stroke-width="3.8"/>
<line x1="1085.5" y1="293.4" x2="1105.3" y2="293.4" stroke-width="3.8"/>
<line x1="1085.5" y1="202.7" x2="1105.3" y2="202.7" stroke-width="3.8"/>
<line x1="1085.5" y1="112.0" x2="1105.3" y2="112.0" stroke-width="3.8"/>
<line x1="1181.3" y1="565.6" x2="1181.3" y2="575.9" stroke-width="3.1"/>
<line x1="1217.9" y1="565.6" x2="1217.9" y2="575.9" stroke-width="3.1"/>
<line x1="1242.5" y1="565.6" x2="1242.5" y2="575.9" stroke-width="3.1"/>
<line x1="1260.9" y1="565.6" x2="1260.9" y2="575.9" stroke-width="3.1"/>
<line x1="1275.3" y1="565.6" x2="1275.3" y2="584.7" stroke-width="4"/>
<line x1="1351.3" y1="565.6" x2="1351.3" y2="575.9" stroke-width="3.1"/>
<line x1="1387.9" y1="565.6" x2="1387.9" y2="575.9" stroke-width="3.1"/>
<line x1="1412.5" y1="565.6" x2="1412.5" y2="575.9" stroke-width="3.1"/>
<line x1="1430.9" y1="565.6" x2="1430.9" y2="575.9" stroke-width="3.1"/>
<line x1="1445.4" y1="565.6" x2="1445.4" y2="584.7" stroke-width="4"/>
<line x1="1521.4" y1="565.6" x2="1521.4" y2="575.9" stroke-width="3.1"/>
<line x1="1558.0" y1="565.6" x2="1558.0" y2="575.9" stroke-width="3.1"/>
<line x1="1582.6" y1="565.6" x2="1582.6" y2="575.9" stroke-width="3.1"/>
<line x1="1601.0" y1="565.6" x2="1601.0" y2="575.9" stroke-width="3.1"/>
<line x1="1615.5" y1="565.6" x2="1615.5" y2="584.7" stroke-width="4"/>
<line x1="1691.5" y1="565.6" x2="1691.5" y2="575.9" stroke-width="3.1"/>
<line x1="1728.0" y1="565.6" x2="1728.0" y2="575.9" stroke-width="3.1"/>
<line x1="1752.7" y1="565.6" x2="1752.7" y2="575.9" stroke-width="3.1"/>
<line x1="1771.0" y1="565.6" x2="1771.0" y2="575.9" stroke-width="3.1"/>
<line x1="1785.5" y1="565.6" x2="1785.5" y2="584.7" stroke-width="4"/>
</g>
<g font-family="'Liberation Sans', Arial, Helvetica, sans-serif">
<text x="944.53" y="58.30" font-size="83.00" textLength="54.26" lengthAdjust="spacingAndGlyphs" fill="#000">B</text>
<text x="1024.83" y="124.50" font-size="25.78" textLength="43.08" lengthAdjust="spacingAndGlyphs" fill="#000">100</text>
<text x="1043.31" y="214.70" font-size="25.78" textLength="30.57" lengthAdjust="spacingAndGlyphs" fill="#000">80</text>
<text x="1042.04" y="306.00" font-size="25.49" textLength="31.87" lengthAdjust="spacingAndGlyphs" fill="#000">60</text>
<text x="1043.37" y="396.30" font-size="26.07" textLength="30.50" lengthAdjust="spacingAndGlyphs" fill="#000">40</text>
<text x="1042.39" y="487.00" font-size="26.07" textLength="31.10" lengthAdjust="spacingAndGlyphs" fill="#000">20</text>
<text x="1062.56" y="577.40" font-size="25.49" textLength="14.78" lengthAdjust="spacingAndGlyphs" fill="#000">0</text>
<text x="1071.44" y="622.60" font-size="26.07" textLength="47.76" lengthAdjust="spacingAndGlyphs" fill="#000">0.01</text>
<text x="1252.13" y="622.60" font-size="26.07" textLength="30.96" lengthAdjust="spacingAndGlyphs" fill="#000">0.1</text>
<text x="1437.05" y="622.60" font-size="26.07" textLength="11.35" lengthAdjust="spacingAndGlyphs" fill="#000">1</text>
<text x="1597.06" y="622.60" font-size="26.07" textLength="28.34" lengthAdjust="spacingAndGlyphs" fill="#000">10</text>
<text x="1756.71" y="622.60" font-size="26.07" textLength="45.87" lengthAdjust="spacingAndGlyphs" fill="#000">100</text>
<text transform="rotate(-90)" x="-466.60" y="1012.40" font-size="45.54" textLength="237.10" lengthAdjust="spacingAndGlyphs" fill="#000">% Blockade</text>
<text x="1310.18" y="669.20" font-size="44.58" textLength="12.16" lengthAdjust="spacingAndGlyphs" fill="#000">[</text>
<text x="1336.01" y="669.20" font-size="46.08" textLength="132.58" lengthAdjust="spacingAndGlyphs" fill="#000">Ru265</text>
<text x="1482.67" y="669.20" font-size="44.58" textLength="11.60" lengthAdjust="spacingAndGlyphs" fill="#000">]</text>
<text x="1508.58" y="669.20" font-size="46.80" textLength="45.52" lengthAdjust="spacingAndGlyphs" fill="#000">10</text>
<text x="1557.14" y="654.20" font-size="26.78" textLength="23.21" lengthAdjust="spacingAndGlyphs" fill="#000">-6</text>
<text x="1198.02" y="211.10" font-size="40.12" textLength="37.72" lengthAdjust="spacingAndGlyphs" fill="#000">IC</text>
<text x="1236.19" y="224.00" font-size="22.63" textLength="25.30" lengthAdjust="spacingAndGlyphs" fill="#000">50</text>
<text x="1271.34" y="211.20" font-size="39.96" textLength="170.54" lengthAdjust="spacingAndGlyphs" fill="#000">= 2.44 uM</text>
<text x="1197.98" y="302.20" font-size="39.54" textLength="28.34" lengthAdjust="spacingAndGlyphs" fill="#000">R</text>
<text x="1226.25" y="289.90" font-size="22.77" textLength="12.70" lengthAdjust="spacingAndGlyphs" fill="#000">2</text>
<text x="1238.89" y="302.60" font-size="39.10" textLength="145.42" lengthAdjust="spacingAndGlyphs" fill="#000">= 0.9758</text>
</g>
<polyline points="1231.53,543.79 1233.21,543.58 1234.89,543.36 1236.57,543.13 1238.25,542.91 1239.93,542.67 1241.61,542.43 1243.29,542.19 1244.97,541.94 1246.65,541.68 1248.33,541.42 1250.01,541.15 1251.69,540.88 1253.37,540.60 1255.05,540.31 1256.73,540.02 1258.41,539.72 1260.09,539.41 1261.77,539.10 1263.45,538.78 1265.13,538.46 1266.81,538.13 1268.49,537.79 1270.17,537.44 1271.85,537.08 1273.53,536.72 1275.21,536.35 1276.89,535.97 1278.57,535.58 1280.25,535.19 1281.93,534.78 1283.61,534.37 1285.29,533.95 1286.97,533.52 1288.65,533.08 1290.33,532.63 1292.01,532.17 1293.69,531.71 1295.37,531.23 1297.05,530.74 1298.73,530.24 1300.41,529.73 1302.09,529.21 1303.77,528.68 1305.45,528.14 1307.13,527.59 1308.81,527.03 1310.49,526.45 1312.17,525.86 1313.85,525.26 1315.53,524.65 1317.21,524.03 1318.89,523.39 1320.57,522.74 1322.25,522.08 1323.93,521.40 1325.61,520.71 1327.29,520.01 1328.96,519.29 1330.64,518.56 1332.32,517.81 1334.00,517.05 1335.68,516.28 1337.36,515.49 1339.04,514.68 1340.72,513.86 1342.40,513.02 1344.08,512.17 1345.76,511.30 1347.44,510.41 1349.12,509.51 1350.80,508.59 1352.48,507.65 1354.16,506.70 1355.84,505.72 1357.52,504.73 1359.20,503.73 1360.88,502.70 1362.56,501.65 1364.24,500.59 1365.92,499.51 1367.60,498.41 1369.28,497.28 1370.96,496.14 1372.64,494.98 1374.32,493.80 1376.00,492.60 1377.68,491.38 1379.36,490.14 1381.04,488.88 1382.72,487.59 1384.40,486.29 1386.08,484.96 1387.76,483.62 1389.44,482.25 1391.12,480.86 1392.80,479.45 1394.48,478.01 1396.16,476.56 1397.84,475.08 1399.52,473.58 1401.20,472.05 1402.88,470.51 1404.56,468.94 1406.24,467.35 1407.92,465.74 1409.60,464.10 1411.28,462.44 1412.96,460.76 1414.64,459.06 1416.32,457.33 1418.00,455.58 1419.68,453.81 1421.36,452.01 1423.04,450.19 1424.72,448.35 1426.40,446.49 1428.08,444.60 1429.76,442.70 1431.44,440.77 1433.12,438.81 1434.80,436.84 1436.48,434.84 1438.16,432.83 1439.84,430.79 1441.52,428.73 1443.20,426.65 1444.88,424.54 1446.56,422.42 1448.24,420.28 1449.92,418.12 1451.60,415.94 1453.28,413.74 1454.96,411.52 1456.64,409.28 1458.32,407.02 1460.00,404.75 1461.68,402.46 1463.36,400.15 1465.04,397.83 1466.72,395.49 1468.40,393.13 1470.08,390.76 1471.76,388.38 1473.44,385.98 1475.12,383.56 1476.80,381.14 1478.48,378.70 1480.16,376.25 1481.84,373.79 1483.52,371.32 1485.20,368.83 1486.88,366.34 1488.56,363.84 1490.24,361.33 1491.92,358.82 1493.60,356.30 1495.28,353.77 1496.96,351.23 1498.64,348.69 1500.32,346.15 1502.00,343.60 1503.68,341.05 1505.36,338.50 1507.04,335.94 1508.72,333.39 1510.40,330.83 1512.08,328.28 1513.76,325.72 1515.44,323.17 1517.12,320.62 1518.80,318.08 1520.48,315.53 1522.16,313.00 1523.84,310.46 1525.52,307.94 1527.20,305.42 1528.88,302.91 1530.55,300.40 1532.23,297.90 1533.91,295.42 1535.59,292.94 1537.27,290.47 1538.95,288.02 1540.63,285.57 1542.31,283.14 1543.99,280.72 1545.67,278.31 1547.35,275.92 1549.03,273.54 1550.71,271.18 1552.39,268.83 1554.07,266.49 1555.75,264.18 1557.43,261.88 1559.11,259.59 1560.79,257.33 1562.47,255.08 1564.15,252.85 1565.83,250.64 1567.51,248.45 1569.19,246.27 1570.87,244.12 1572.55,241.99 1574.23,239.88 1575.91,237.78 1577.59,235.71 1579.27,233.66 1580.95,231.63 1582.63,229.62 1584.31,227.64 1585.99,225.67 1587.67,223.73 1589.35,221.81 1591.03,219.91 1592.71,218.04 1594.39,216.18 1596.07,214.35 1597.75,212.54 1599.43,210.76 1601.11,209.00 1602.79,207.26 1604.47,205.54 1606.15,203.84 1607.83,202.17 1609.51,200.52 1611.19,198.90 1612.87,197.30 1614.55,195.72 1616.23,194.16 1617.91,192.62 1619.59,191.11 1621.27,189.62 1622.95,188.15 1624.63,186.70 1626.31,185.28 1627.99,183.88 1629.67,182.50 1631.35,181.14 1633.03,179.80 1634.71,178.48 1636.39,177.19 1638.07,175.92 1639.75,174.66 1641.43,173.43 1643.11,172.22 1644.79,171.03 1646.47,169.85 1648.15,168.70 1649.83,167.57 1651.51,166.46 1653.19,165.36 1654.87,164.29 1656.55,163.23 1658.23,162.20 1659.91,161.18 1661.59,160.18 1663.27,159.20 1664.95,158.23 1666.63,157.29 1668.31,156.36 1669.99,155.44 1671.67,154.55 1673.35,153.67 1675.03,152.81 1676.71,151.96 1678.39,151.13 1680.07,150.31 1681.75,149.52 1683.43,148.73 1685.11,147.96 1686.79,147.21 1688.47,146.47 1690.15,145.74 1691.83,145.03 1693.51,144.33 1695.19,143.65 1696.87,142.98 1698.55,142.32 1700.23,141.68 1701.91,141.05 1703.59,140.43 1705.27,139.82 1706.95,139.23 1708.63,138.65 1710.31,138.08 1711.99,137.52 1713.67,136.97 1715.35,136.43 1717.03,135.91 1718.71,135.39 1720.39,134.89 1722.07,134.40 1723.75,133.91 1725.43,133.44 1727.11,132.98 1728.79,132.52 1730.47,132.08 1732.14,131.64 1733.82,131.22" fill="none" stroke="#000" stroke-width="1.7"/>
<g stroke="#000" stroke-width="1.7"><line x1="1223.9" y1="534" x2="1223.9" y2="561.8"/><line x1="1214.8000000000002" y1="534" x2="1233.0" y2="534"/><line x1="1214.8000000000002" y1="561.8" x2="1233.0" y2="561.8"/></g>
<circle cx="1223.9" cy="547.6" r="9.1" fill="#000"/>
<g stroke="#000" stroke-width="1.7"><line x1="1326.5" y1="485.9" x2="1326.5" y2="523"/><line x1="1317.4" y1="485.9" x2="1335.6" y2="485.9"/><line x1="1317.4" y1="523" x2="1335.6" y2="523"/></g>
<circle cx="1326.5" cy="504.6" r="9.1" fill="#000"/>
<g stroke="#000" stroke-width="1.7"><line x1="1394.1" y1="473" x2="1394.1" y2="510.1"/><line x1="1385.0" y1="473" x2="1403.1999999999998" y2="473"/><line x1="1385.0" y1="510.1" x2="1403.1999999999998" y2="510.1"/></g>
<circle cx="1394.1" cy="491.6" r="9.1" fill="#000"/>
<g stroke="#000" stroke-width="1.7"><line x1="1445.3" y1="402.1" x2="1445.3" y2="445.7"/><line x1="1436.2" y1="402.1" x2="1454.3999999999999" y2="402.1"/><line x1="1436.2" y1="445.7" x2="1454.3999999999999" y2="445.7"/></g>
<circle cx="1445.3" cy="423.6" r="9.1" fill="#000"/>
<g stroke="#000" stroke-width="1.7"><line x1="1496.5" y1="309.7" x2="1496.5" y2="390.8"/><line x1="1487.4" y1="309.7" x2="1505.6" y2="309.7"/><line x1="1487.4" y1="390.8" x2="1505.6" y2="390.8"/></g>
<circle cx="1496.5" cy="350.7" r="9.1" fill="#000"/>
<g stroke="#000" stroke-width="1.7"><line x1="1615.3" y1="180.1" x2="1615.3" y2="214"/><line x1="1606.2" y1="180.1" x2="1624.3999999999999" y2="180.1"/><line x1="1606.2" y1="214" x2="1624.3999999999999" y2="214"/></g>
<circle cx="1615.3" cy="196.6" r="9.1" fill="#000"/>
<circle cx="1733.6" cy="130.6" r="9.1" fill="#000"/>
</svg>
</body></html>
